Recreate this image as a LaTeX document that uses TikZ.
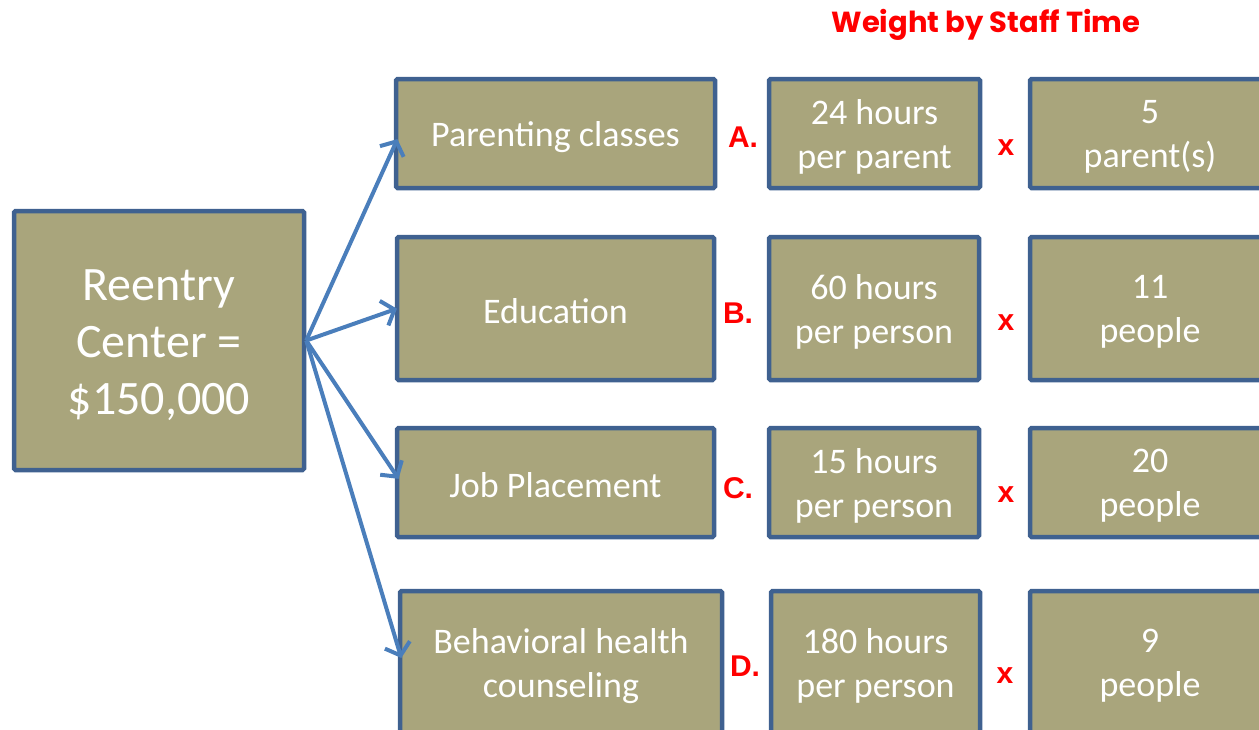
\documentclass[tikz,border=0pt]{standalone}
\usepackage{fontspec}
\setmainfont{Carlito}
\newfontfamily\titlefont{Poppins}
\newfontfamily\lblfont{Liberation Sans}
\usetikzlibrary{arrows.meta}
\definecolor{boxfill}{HTML}{A9A57C}
\definecolor{boxedge}{HTML}{3F6190}
\definecolor{arrowblue}{HTML}{4A7EBB}
\definecolor{redtxt}{HTML}{FF0000}
\tikzset{
  box/.style={draw=boxedge, fill=boxfill, line width=4.5pt, rounded corners=1.5pt, inner sep=0pt},
  boxtxt/.style={text=white, align=center, inner sep=0pt, font=\fontsize{36}{44}\selectfont},
  bigtxt/.style={text=white, align=center, inner sep=0pt, font=\fontsize{48}{57}\selectfont},
  lbl/.style={text=redtxt, font=\lblfont\fontsize{30}{32}\selectfont\bfseries, inner sep=0pt, anchor=base},
  conn/.style={draw=arrowblue, line width=4pt, -{Straight Barb[length=11pt,width=26pt,line width=4pt]}, shorten >=-1pt}
}
\begin{document}
\begin{tikzpicture}[x=1pt,y=-1pt]
\useasboundingbox (0,0) rectangle (1259,729);
\clip (0,0) rectangle (1259,729);
% title
\node[text=redtxt, font=\titlefont\fontsize{29}{32}\selectfont\bfseries, inner sep=0pt] (title) at (986,25) {Weight by Staff Time};
% root
\node[box, minimum width=290pt, minimum height=259pt] (root) at (159,340.5) {};
\node[bigtxt] (root-t) at ([yshift=-5pt]root.center) {Reentry\\Center =\\\$150,000};
% row A
\node[box, minimum width=319pt, minimum height=109pt] (a) at (555.5,133.5) {};
\node[box, minimum width=211pt, minimum height=109pt] (ah) at (874.5,133.5) {};
\node[box, minimum width=240pt, minimum height=109pt] (an) at (1150,133.5) {};
% row B
\node[box, minimum width=317pt, minimum height=143pt] (b) at (555.5,308.5) {};
\node[box, minimum width=210pt, minimum height=143pt] (bh) at (874,308.5) {};
\node[box, minimum width=240pt, minimum height=143pt] (bn) at (1150,308.5) {};
% row C
\node[box, minimum width=317pt, minimum height=109pt] (c) at (555.5,482.5) {};
\node[box, minimum width=210pt, minimum height=109pt] (ch) at (874,482.5) {};
\node[box, minimum width=240pt, minimum height=109pt] (cn) at (1150,482.5) {};
% row D
\node[box, minimum width=322pt, minimum height=144pt] (d) at (561,663) {};
\node[box, minimum width=209pt, minimum height=144pt] (dh) at (875.5,663) {};
\node[box, minimum width=240pt, minimum height=144pt] (dn) at (1150,663) {};
% box texts
\node[boxtxt] (a-t) at ([yshift=-4pt]a.center) {Parenting classes};
\node[boxtxt] (ah-t) at ([yshift=-3pt]ah.center) {24 hours\\per parent};
\node[boxtxt] (an-t) at ([yshift=-3pt]an.center) {5\\parent(s)};
\node[boxtxt] (b-t) at ([yshift=-3pt]b.center) {Education};
\node[boxtxt] (bh-t) at ([yshift=-3pt]bh.center) {60 hours\\per person};
\node[boxtxt] (bn-t) at ([yshift=-3pt]bn.center) {11\\people};
\node[boxtxt] (c-t) at ([yshift=-3pt]c.center) {Job Placement};
\node[boxtxt] (ch-t) at ([yshift=-3pt]ch.center) {15 hours\\per person};
\node[boxtxt] (cn-t) at ([yshift=-3pt]cn.center) {20\\people};
\node[boxtxt] (d-t) at ([yshift=-3pt]d.center) {Behavioral health\\counseling};
\node[boxtxt] (dh-t) at ([yshift=-3pt]dh.center) {180 hours\\per person};
\node[boxtxt] (dn-t) at ([yshift=-3pt]dn.center) {9\\people};
% letters
\node[lbl] (la) at (743,147) {A.};
\node[lbl] (lb) at (738,323.5) {B.};
\node[lbl] (lc) at (738,498.5) {C.};
\node[lbl] (ld) at (745,676) {D.};
\node[lbl] (xa) at (1006,155) {x};
\node[lbl] (xb) at (1006,330) {x};
\node[lbl] (xc) at (1006,502) {x};
\node[lbl] (xd) at (1005,683) {x};
% connectors
\coordinate (src) at (root.east);
\coordinate (ta) at (397,140);
\coordinate (tb) at (396,309);
\coordinate (tc) at (398,478);
\coordinate (td) at (401,657);
\draw[conn] (src) -- (ta);
\draw[conn] (src) -- (tb);
\draw[conn] (src) -- (tc);
\draw[conn] (src) -- (td);
\end{tikzpicture}
\end{document}
